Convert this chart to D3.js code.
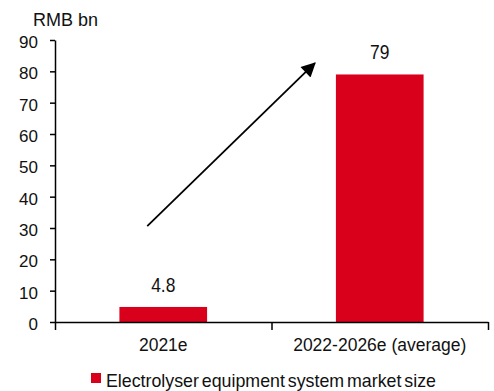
<!DOCTYPE html>
<html>
<head>
<meta charset="utf-8">
<script src="https://cdn.jsdelivr.net/npm/d3@7"></script>
<style>
  body { margin: 0; background: #fff; }
  svg { display: block; font-family: "Liberation Sans", Arial, sans-serif; }
  .axis path, .axis line { stroke: #000; stroke-width: 1.5; }
  .axis text { fill: #111; }
</style>
</head>
<body>
<script>
// data
const categories = ["2021e", "2022-2026e (average)"];
const values = [4.8, 79];
const valueLabels = ["4.8", "79"];
const yTicks = [0, 10, 20, 30, 40, 50, 60, 70, 80, 90];
const unitLabel = "RMB bn";
const legendLabel = "Electrolyser equipment system market size";
// arrow: x as share of plot width, y in RMB bn
const arrowFrom = [0.213, 30.6];
const arrowTo = [0.6, 82.6];

const w = 494;
const h = 391;
const plotLeft = 55, plotRight = 488, plotTop = 40, plotBottom = 322;

const svg = d3.select("body")
  .append("svg")
  .attr("width", w)
  .attr("height", h);

const x = d3.scaleBand()
  .domain(categories)
  .range([plotLeft, plotRight])
  .paddingInner(0)
  .paddingOuter(0);

const xFrac = d3.scaleLinear().domain([0, 1]).range([plotLeft, plotRight]);

const y = d3.scaleLinear()
  .domain([0, 90])
  .range([plotBottom, plotTop]);

const barW = x.bandwidth() * 0.405;

// bars
svg.append("g")
  .selectAll("rect")
  .data(values)
  .enter()
  .append("rect")
  .attr("x", (d, i) => x(categories[i]) + (x.bandwidth() - barW) / 2)
  .attr("y", d => y(d))
  .attr("width", barW)
  .attr("height", d => y(0) - y(d))
  .attr("fill", "#d9001b");

// value labels (narrow look)
svg.append("g")
  .selectAll("text")
  .data(values)
  .enter()
  .append("text")
  .attr("text-anchor", "middle")
  .attr("transform", (d, i) => "translate(" + (x(categories[i]) + x.bandwidth() / 2) + "," + (y(d) - 15) + ") scale(0.85,1)")
  .attr("font-size", 20.5)
  .attr("fill", "#111")
  .text((d, i) => valueLabels[i]);

// y axis
svg.append("g")
  .attr("class", "axis")
  .attr("transform", "translate(" + plotLeft + ",0)")
  .call(d3.axisLeft(y).tickValues(yTicks).tickSize(5).tickSizeOuter(0).tickPadding(12))
  .call(g => g.selectAll("text").attr("font-size", 17).attr("dy", "0.45em"));

// x axis with boundary ticks
const edges = [plotLeft].concat(categories.map(c => x(c) + x.bandwidth()));
svg.append("g")
  .attr("class", "axis")
  .attr("transform", "translate(0," + plotBottom + ")")
  .call(d3.axisBottom(xFrac).tickValues(edges.map(e => xFrac.invert(e))).tickSize(8).tickSizeOuter(0).tickFormat(""));

svg.append("g")
  .attr("class", "axis")
  .attr("transform", "translate(0," + plotBottom + ")")
  .call(d3.axisBottom(x).tickSize(0).tickPadding(29))
  .call(g => g.select(".domain").remove())
  .call(g => g.selectAll("text").attr("font-size", 17.5).attr("dy", 0));

// unit label
svg.append("text")
  .attr("x", 33)
  .attr("y", 26)
  .attr("font-size", 18)
  .attr("fill", "#111")
  .text(unitLabel);

// arrow
const defs = svg.append("defs");
defs.append("marker")
  .attr("id", "head")
  .attr("viewBox", "0 0 10 10")
  .attr("refX", 9)
  .attr("refY", 5)
  .attr("markerWidth", 9.5)
  .attr("markerHeight", 8)
  .attr("markerUnits", "strokeWidth")
  .attr("orient", "auto")
  .append("path")
  .attr("d", "M0,0 L10,5 L0,10 z")
  .attr("fill", "#000");

svg.append("line")
  .attr("x1", xFrac(arrowFrom[0]))
  .attr("y1", y(arrowFrom[1]))
  .attr("x2", xFrac(arrowTo[0]))
  .attr("y2", y(arrowTo[1]))
  .attr("stroke", "#000")
  .attr("stroke-width", 1.8)
  .attr("marker-end", "url(#head)");

// legend
const legend = svg.append("g").attr("transform", "translate(91,373)");
legend.append("rect")
  .attr("width", 10)
  .attr("height", 10)
  .attr("fill", "#d9001b");
legend.append("text")
  .attr("x", 15)
  .attr("y", 14)
  .attr("font-size", 17.8)
  .attr("word-spacing", -2)
  .attr("fill", "#111")
  .text(legendLabel);
</script>
</body>
</html>
